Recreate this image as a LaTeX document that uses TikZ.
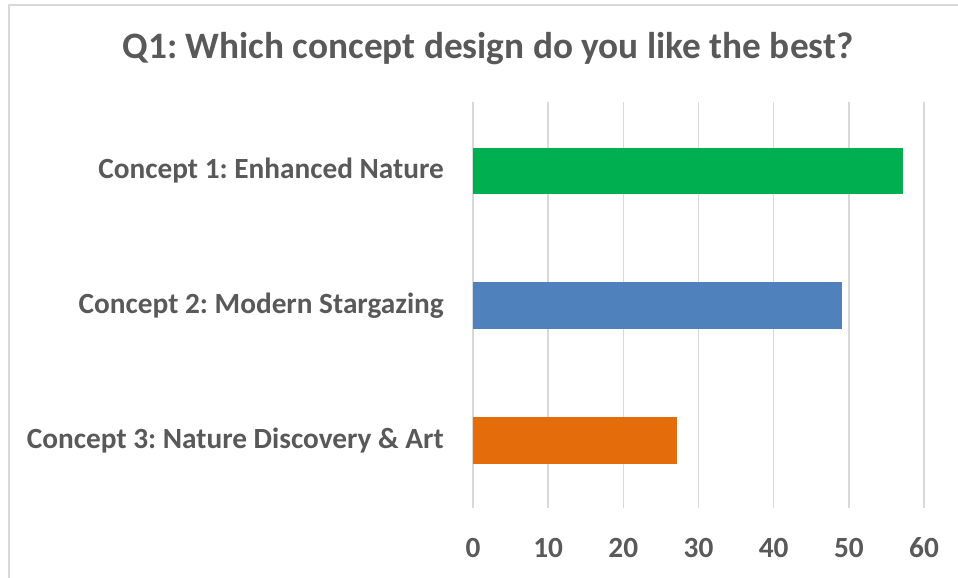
\documentclass[tikz,border=0pt]{standalone}
\usepackage{fontspec}
\setmainfont{Carlito}
\frenchspacing
\definecolor{txt}{HTML}{595959}
\definecolor{grid}{HTML}{D9D9D9}
\definecolor{cgreen}{HTML}{00B050}
\definecolor{cblue}{HTML}{4F81BD}
\definecolor{corange}{HTML}{E46C0A}
\tikzset{
  lbl/.style={text=txt, font=\fontsize{29.3}{33}\selectfont\bfseries, inner sep=0pt},
  ttl/.style={text=txt, font=\fontsize{37.3}{41}\selectfont\bfseries, inner sep=0pt},
  gl/.style={draw=grid, line width=1.6pt},
  bar/.style={draw=none}
}
\begin{document}
\begin{tikzpicture}[x=1pt,y=-1pt]
\useasboundingbox (0,0) rectangle (958,578);
\fill[white] (0,0) rectangle (958,578);
\draw[draw=grid, line width=2pt] (9,578) -- (9,5) -- (958,5);
\node[ttl] (title) at (488,49) {\frenchspacing Q1: Which concept design do you like the best?};
\foreach \v [count=\i from 0] in {0,10,20,30,40,50,60} {
  \coordinate (gt\i) at ({473+7.517*\v},102);
  \coordinate (gb\i) at ({473+7.517*\v},508);
  \draw[gl] (gt\i) -- (gb\i);
  \node[lbl] (tick\i) at ({473+7.517*\v},548) {\v};
}
\fill[cgreen] (473,148) rectangle ({473+7.517*57.2},194);
\fill[cblue] (473,282) rectangle ({473+7.517*49.1},329);
\fill[corange] (473,417) rectangle ({473+7.517*27.1},464);
\node[lbl, anchor=east] (c1) at (444,171) {\frenchspacing Concept 1: Enhanced Nature};
\node[lbl, anchor=east] (c2) at (444,306) {\frenchspacing Concept 2: Modern Stargazing};
\node[lbl, anchor=east] (c3) at (444,441) {\frenchspacing Concept 3: Nature Discovery \& Art};
\end{tikzpicture}
\end{document}
